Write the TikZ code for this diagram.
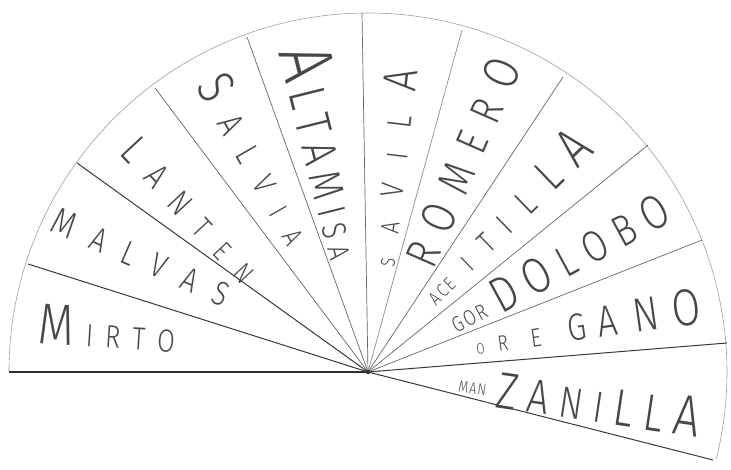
\documentclass[tikz,border=0pt]{standalone}
\usepackage{fontspec}
\newfontfamily\hand{Fira Sans Light}[FakeStretch=0.8]
\newcommand\fs[1]{\fontsize{#1}{#1}\selectfont}
\newcommand\hw[2]{\makebox[#1][s]{#2}}
\newcommand\gp[1]{\hskip 0pt plus #1fill\relax}
\begin{document}
\begin{tikzpicture}[x=1pt,y=1pt,
  spoke/.style={draw=black!60, line width=0.7pt},
  darkspoke/.style={draw=black!78, line width=1pt},
  base/.style={draw=black!82, line width=1.2pt},
  rim/.style={draw=black!38, line width=0.6pt},
  lbl/.style={inner sep=0pt, text=black!72, font=\hand}]
\useasboundingbox (-368,-98) rectangle (363,372);
\coordinate (C) at (0,0);
\coordinate (s0) at (-359,0);
\coordinate (s1) at (-340,108);
\coordinate (s2) at (-291,209);
\coordinate (s3) at (-213,284);
\coordinate (s4) at (-121,335);
\coordinate (s5) at (-6,359);
\coordinate (s6) at (94,342);
\coordinate (s7) at (195,295);
\coordinate (s8) at (280,227);
\coordinate (s9) at (334,132);
\coordinate (s10) at (359,29);
\coordinate (s11) at (345,-88);
% rim
\draw[rim] (s0) arc[start angle=180, end angle=-14, radius=359];
% spokes
\draw[base] (s0) -- (C);
\draw[darkspoke] (C) -- (s1);
\draw[darkspoke] (C) -- (s2);
\draw[spoke] (C) -- (s3);
\draw[spoke] (C) -- (s4);
\draw[spoke] (C) -- (s5);
\draw[spoke, draw=black!45] (C) -- (s6);
\draw[spoke] (C) -- (s7);
\draw[spoke] (C) -- (s8);
\draw[spoke] (C) -- (s9);
\draw[darkspoke] (C) -- (s10);
\draw[darkspoke] (C) -- (s11);
\fill[black!80] (C) circle (2.2);
% labels
\node[lbl, anchor=base, rotate=-3.5] (mirto) at (-262,24)
  {\hw{137pt}{\fs{58}M\hfill\fs{32}I\hfill R\hfill T\hfill O}};
\node[lbl, rotate=-23.6] (malvas) at (-227,115)
  {\hw{191pt}{\fs{38}M\hfill\fs{34}A\hfill L\hfill V\hfill A\hfill S}};
\node[lbl, rotate=-47] (lanten) at (-177,162)
  {\hw{181pt}{\fs{42}L\hfill\fs{36}A\hfill\fs{34}N\hfill\fs{30}T\hfill\fs{28}E\hfill N}};
\node[lbl, rotate=-60.3] (salvia) at (-111,214)
  {\hw{185pt}{\fs{52}S\hfill\fs{36}A\hfill\fs{34}L\hfill\fs{32}V\hfill\fs{28}I\hfill A}};
\node[lbl, rotate=-76] (altamisa) at (-39,221)
  {\hw{216pt}{\fs{75}A\hfill\fs{52}L\hfill\fs{50}T\hfill\fs{48}A\hfill\fs{45}M\hfill\fs{40}I\hfill\fs{34}S\hfill\fs{30}A}};
\node[lbl, rotate=83.2] (savila) at (22,205)
  {\hw{198pt}{\fs{20}S\hfill\fs{26}A\hfill\fs{32}V\hfill\fs{30}I\hfill\fs{34}L\hfill\fs{48}A}};
\node[lbl, rotate=66.3] (romero) at (94,210)
  {\hw{222pt}{\fs{46}R\hfill\fs{48}O\hfill\fs{46}M\hfill\fs{44}E\hfill R\hfill\fs{50}O}};
\node[lbl, anchor=base, rotate=44] (aceitilla) at (148,143)
  {\hw{222pt}{\fs{19}A\kern2pt C\kern2pt E\gp{1}\fs{26}I\gp{1}\fs{30}T\gp{0.8}\fs{32}I\gp{1}\fs{36}L\gp{1}\fs{46}L\gp{0.8}\fs{56}A}};
\node[lbl, rotate=28.5] (gordolobo) at (190,108)
  {\hw{245pt}{\raisebox{4pt}{\fs{22}G\kern2pt O\kern2pt R}\hfill\fs{50}D\hfill O\hfill\fs{44}L\hfill O\hfill B\hfill\fs{48}O}};
\node[lbl, anchor=base, rotate=8] (oregano) at (222,33)
  {\hw{228pt}{\fs{15}O\gp{0.6}\fs{22}R\gp{1}\fs{26}E\gp{1.2}\fs{38}G\gp{0.5}\fs{44}A\gp{0.7}\fs{48}N\gp{0.6}\fs{52}O}};
\node[lbl, rotate=-8.5] (manzanilla) at (212,-28)
  {\hw{244pt}{\raisebox{10pt}{\fs{16}M\kern1pt A\kern1pt N}\hfill\fs{52}Z\hfill\fs{48}A\hfill\fs{44}N\hfill I\hfill\fs{52}L\hfill L\hfill\fs{58}A}};
\end{tikzpicture}
\end{document}
